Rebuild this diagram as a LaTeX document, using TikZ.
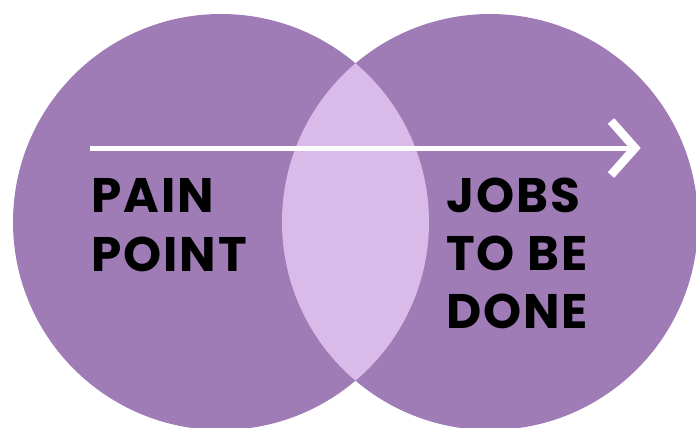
\documentclass[tikz,border=0pt]{standalone}
\usepackage{fontspec}
\setmainfont{Poppins}[LetterSpace=4]
\definecolor{venn}{HTML}{A07CB7}
\definecolor{lens}{HTML}{DABAE9}
\tikzset{
  lbl/.style={anchor=base west, inner sep=0pt, font=\fontsize{48.5}{56}\selectfont\bfseries, text=black},
  arrowline/.style={draw=white, line width=5pt},
  arrowhead/.style={draw=white, line width=8.5pt, miter limit=10, line join=miter}
}
\begin{document}
\begin{tikzpicture}[x=1pt,y=-1pt]
\useasboundingbox (0,0) rectangle (696,428);
\clip (0,0) rectangle (696,428);
\fill[venn] (221,222) circle (208);
\fill[venn] (490,222) circle (208);
\begin{scope}
  \clip (221,222) circle (208);
  \fill[lens] (490,222) circle (208);
\end{scope}
\coordinate (start) at (90,148);
\coordinate (tip) at (635,148);
\coordinate (armA) at (611,121);
\coordinate (armB) at (611,175);
\draw[arrowline] (start) -- (tip);
\draw[arrowhead] (armA) -- (tip) -- (armB);
\node[lbl] (pain) at (91,212) {PAIN};
\node[lbl] (point) at (91,271) {POINT};
\node[lbl] (jobs) at (446,212) {JOBS};
\node[lbl] (tobe) at (446,270) {TO BE};
\node[lbl] (done) at (446,328) {DONE};
\end{tikzpicture}
\end{document}
